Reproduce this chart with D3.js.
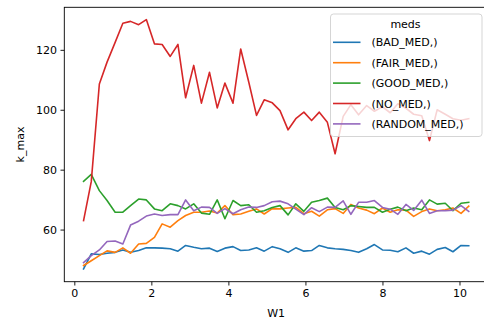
<!DOCTYPE html>
<html>
<head>
<meta charset="utf-8">
<script src="https://cdn.jsdelivr.net/npm/d3@7"></script>
<style>
  body { margin: 0; background: #fff; }
  svg { display: block; font-family: "DejaVu Sans", sans-serif; }
</style>
</head>
<body>
<div id="chart"></div>
<script>
// W1 values (x axis)
var w1 = [0.24, 0.44, 0.65, 0.85, 1.06, 1.26, 1.46, 1.67, 1.87, 2.08,
          2.28, 2.49, 2.69, 2.89, 3.10, 3.30, 3.51, 3.71, 3.91, 4.12,
          4.32, 4.53, 4.73, 4.93, 5.14, 5.34, 5.55, 5.75, 5.96, 6.16,
          6.36, 6.57, 6.77, 6.98, 7.18, 7.38, 7.59, 7.79, 8.00, 8.20,
          8.40, 8.61, 8.81, 9.02, 9.22, 9.42, 9.63, 9.83, 10.04, 10.24];

var meds = ["(BAD_MED,)", "(FAIR_MED,)", "(GOOD_MED,)", "(NO_MED,)", "(RANDOM_MED,)"];

var badMed = [46.9, 51.9, 51.7, 52.1, 52.4, 53.2, 52.4, 53.0, 53.9, 53.9,
              53.8, 53.6, 52.8, 54.7, 54.1, 53.6, 53.8, 52.7, 53.8, 54.3,
              53.0, 53.2, 53.9, 52.8, 54.3, 53.6, 52.4, 53.9, 52.8, 53.0,
              54.7, 53.9, 53.6, 53.4, 53.0, 52.4, 53.6, 55.0, 53.2, 53.1,
              52.6, 53.9, 52.1, 52.8, 51.8, 53.4, 54.0, 52.6, 54.7, 54.6];

var fairMed = [48.0, 49.6, 51.3, 52.9, 52.4, 53.9, 52.1, 55.2, 55.4, 57.4,
               61.9, 60.8, 63.0, 64.7, 65.8, 65.8, 66.2, 65.5, 68.0, 65.0,
               65.2, 66.1, 66.9, 65.2, 67.0, 66.9, 67.2, 67.4, 65.3, 66.1,
               64.5, 66.6, 67.0, 65.4, 68.4, 67.2, 66.5, 65.3, 67.2, 65.8,
               66.6, 66.5, 64.4, 66.0, 66.9, 66.3, 66.6, 67.2, 65.4, 67.8];

var goodMed = [76.1, 78.4, 73.0, 69.7, 65.8, 65.8, 68.0, 70.2, 69.9, 66.9,
               66.3, 68.6, 68.0, 66.9, 68.6, 65.5, 65.1, 69.9, 63.6, 69.7,
               68.0, 68.3, 65.8, 66.3, 67.4, 68.0, 64.9, 68.6, 66.1, 69.1,
               69.7, 70.5, 67.4, 66.6, 68.0, 67.7, 67.4, 67.4, 65.8, 66.8,
               67.5, 66.3, 67.2, 66.6, 69.9, 68.5, 68.8, 66.3, 68.8, 69.1];

var noMed = [63.0, 76.0, 108.6, 115.9, 122.5, 128.9, 129.5, 128.4, 130.1, 122.0,
             121.8, 117.8, 121.8, 104.0, 114.8, 102.2, 112.5, 100.6, 108.9, 102.2,
             120.3, 109.2, 98.1, 103.3, 102.3, 99.7, 93.3, 97.0, 99.2, 96.4,
             99.2, 95.8, 85.3, 97.8, 101.7, 98.3, 101.4, 99.5, 101.0, 99.0,
             102.0, 100.5, 98.5, 98.0, 89.7, 100.0, 98.5, 97.0, 96.5, 97.0];

var randomMed = [49.0, 51.3, 53.2, 56.0, 56.2, 55.2, 61.5, 62.8, 64.5, 65.2,
                 64.7, 65.0, 65.0, 69.9, 66.3, 67.5, 67.4, 65.4, 67.0, 65.3,
                 66.6, 67.5, 67.4, 68.0, 69.3, 69.5, 68.6, 66.8, 65.0, 67.3,
                 66.0, 67.5, 67.4, 69.6, 65.1, 69.1, 69.1, 69.7, 67.4, 66.8,
                 65.1, 68.4, 66.4, 69.8, 65.4, 66.3, 66.3, 66.5, 68.0, 66.1];

var xTicks = [0, 2, 4, 6, 8, 10];
var yTicks = [60, 80, 100, 120];

var series = [badMed, fairMed, goodMed, noMed, randomMed];
var colors = ["#1f77b4", "#ff7f0e", "#2ca02c", "#d62728", "#9467bd"];

// dimensions
var W = 484, H = 321;
var margin = {top: 7.3, right: -4, bottom: 39.3, left: 64.3};

var svg = d3.select("#chart")
  .append("svg")
  .attr("width", W)
  .attr("height", H);

var x = d3.scaleLinear()
  .domain([-0.26, 10.74])
  .range([margin.left, W - margin.right]);

var y = d3.scaleLinear()
  .domain([42.6, 134.2])
  .range([H - margin.bottom, margin.top]);

// lines
var line = d3.line()
  .x((d, i) => x(w1[i]))
  .y(d => y(d));

svg.selectAll("path.series")
  .data(series)
  .enter()
  .append("path")
  .attr("class", "series")
  .attr("fill", "none")
  .attr("stroke", (d, i) => colors[i])
  .attr("stroke-width", 1.6)
  .attr("stroke-linejoin", "round")
  .attr("stroke-linecap", "square")
  .attr("d", line);

// axes
var xAxis = svg.append("g")
  .attr("transform", "translate(0," + (H - margin.bottom) + ")")
  .call(d3.axisBottom(x).tickValues(xTicks).tickSizeOuter(0).tickSize(3.8).tickPadding(3.5));

var yAxis = svg.append("g")
  .attr("transform", "translate(" + margin.left + ",0)")
  .call(d3.axisLeft(y).tickValues(yTicks).tickSizeOuter(0).tickSize(3.8).tickPadding(3.5));

[xAxis, yAxis].forEach(function(g) {
  g.select(".domain").remove();
  g.selectAll(".tick line").attr("stroke", "#000").attr("stroke-width", 0.9);
  g.selectAll(".tick text")
    .attr("fill", "#000")
    .style("font-size", "11px")
    .style("font-family", "DejaVu Sans");
});

// frame
svg.append("rect")
  .attr("x", margin.left)
  .attr("y", margin.top)
  .attr("width", W - margin.right - margin.left)
  .attr("height", H - margin.bottom - margin.top)
  .attr("fill", "none")
  .attr("stroke", "#000")
  .attr("stroke-width", 0.9);

// axis labels
svg.append("text")
  .attr("x", (margin.left + W - margin.right) / 2)
  .attr("y", 317)
  .attr("text-anchor", "middle")
  .style("font-size", "11px")
  .text("W1");

svg.append("text")
  .attr("transform", "translate(24," + ((margin.top + H - margin.bottom) / 2) + ") rotate(-90)")
  .attr("text-anchor", "middle")
  .style("font-size", "11px")
  .text("k_max");

// legend
var lg = svg.append("g").attr("transform", "translate(330.5,14)");

lg.append("rect")
  .attr("width", 151.5)
  .attr("height", 122.5)
  .attr("rx", 3)
  .attr("fill", "#fff")
  .attr("fill-opacity", 0.8)
  .attr("stroke", "#d0d0d0")
  .attr("stroke-width", 0.9);

lg.append("text")
  .attr("x", 75)
  .attr("y", 14)
  .attr("text-anchor", "middle")
  .style("font-size", "11px")
  .text("meds");

meds.forEach(function(m, i) {
  var yy = 28.3 + i * 20.4;
  lg.append("line")
    .attr("x1", 2.5).attr("x2", 30)
    .attr("y1", yy).attr("y2", yy)
    .attr("stroke", colors[i])
    .attr("stroke-width", 1.6);
  lg.append("text")
    .attr("x", 41)
    .attr("y", yy + 4)
    .style("font-size", "11px")
    .text(m);
});
</script>
</body>
</html>
